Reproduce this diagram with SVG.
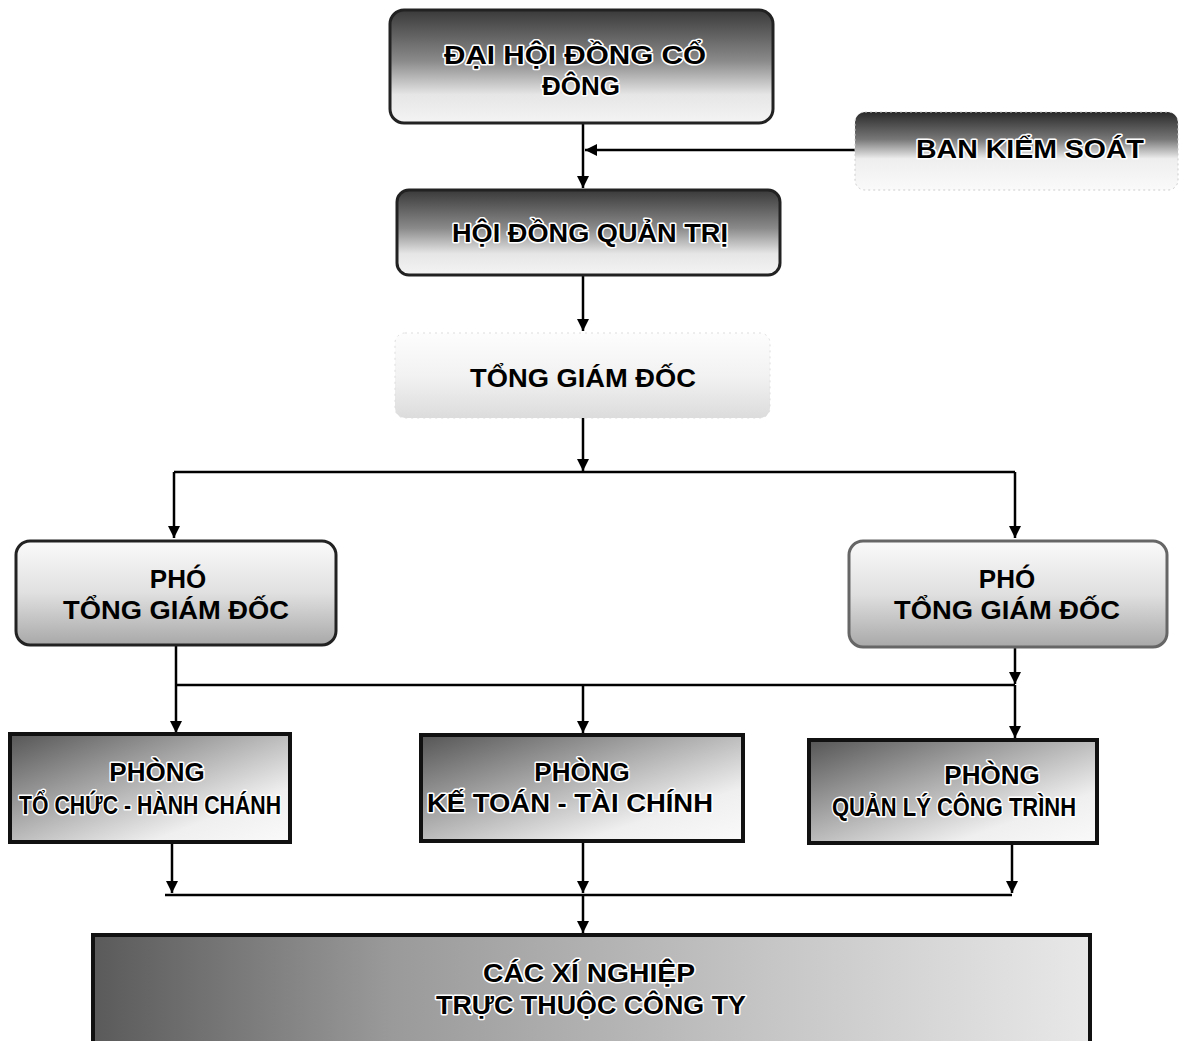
<svg xmlns="http://www.w3.org/2000/svg" width="1181" height="1041" viewBox="0 0 1181 1041">
<defs>
<linearGradient id="gTopDark" x1="0" y1="0" x2="0" y2="1">
<stop offset="0" stop-color="#3a3a3a"/><stop offset="0.45" stop-color="#8a8a8a"/><stop offset="0.75" stop-color="#e6e6e6"/><stop offset="1" stop-color="#f4f4f4"/>
</linearGradient>
<linearGradient id="gBks" x1="0" y1="0" x2="0" y2="1">
<stop offset="0" stop-color="#2a2a2a"/><stop offset="0.35" stop-color="#777"/><stop offset="0.6" stop-color="#eee"/><stop offset="1" stop-color="#fafafa"/>
</linearGradient>
<linearGradient id="gLight" x1="0" y1="0" x2="0" y2="1">
<stop offset="0" stop-color="#fdfdfd"/><stop offset="0.5" stop-color="#f2f2f2"/><stop offset="1" stop-color="#dcdcdc"/>
</linearGradient>
<linearGradient id="gPho" x1="0" y1="0" x2="0" y2="1">
<stop offset="0" stop-color="#fafafa"/><stop offset="0.5" stop-color="#e0e0e0"/><stop offset="1" stop-color="#a8a8a8"/>
</linearGradient>
<linearGradient id="gDiag" x1="0" y1="0" x2="1" y2="1">
<stop offset="0" stop-color="#555"/><stop offset="0.4" stop-color="#a8a8a8"/><stop offset="0.75" stop-color="#efefef"/><stop offset="1" stop-color="#fafafa"/>
</linearGradient>
<linearGradient id="gBottom" x1="0" y1="0" x2="1" y2="0">
<stop offset="0" stop-color="#5a5a5a"/><stop offset="0.3" stop-color="#9a9a9a"/><stop offset="0.7" stop-color="#c8c8c8"/><stop offset="1" stop-color="#e8e8e8"/>
</linearGradient>
<marker id="arr" viewBox="0 0 12 12" refX="12" refY="6" markerWidth="12" markerHeight="12" markerUnits="userSpaceOnUse" orient="auto">
<path d="M0,0 L12,6 L0,12 Z" fill="#000"/>
</marker>
</defs>
<style>
text{font-family:"Liberation Sans",Arial,sans-serif;font-weight:bold;font-size:26px;fill:#000;text-anchor:middle}
.halo{stroke:#fff;stroke-width:3px;paint-order:stroke;stroke-linejoin:round}
.rbox{stroke:#222;stroke-width:3}
.sbox{stroke:#111;stroke-width:4}
.line{stroke:#000;stroke-width:2.5;fill:none}
</style>
<rect width="1181" height="1041" fill="#fff"/>

<g id="connectors">
<path class="line" d="M583,123 V188" marker-end="url(#arr)"/>
<path class="line" d="M855,150 H585" marker-end="url(#arr)"/>
<path class="line" d="M583,275 V331" marker-end="url(#arr)"/>
<path class="line" d="M583,418 V471" marker-end="url(#arr)"/>
<path class="line" d="M174,472 H1015"/>
<path class="line" d="M174,472 V538" marker-end="url(#arr)"/>
<path class="line" d="M1015,472 V538" marker-end="url(#arr)"/>
<path class="line" d="M176,645 V733" marker-end="url(#arr)"/>
<path class="line" d="M1015,647 V684" marker-end="url(#arr)"/>
<path class="line" d="M176,685 H1015"/>
<path class="line" d="M1015,685 V738" marker-end="url(#arr)"/>
<path class="line" d="M583,685 V733" marker-end="url(#arr)"/>
<path class="line" d="M172,842 V893" marker-end="url(#arr)"/>
<path class="line" d="M583,840 V893" marker-end="url(#arr)"/>
<path class="line" d="M1012,843 V893" marker-end="url(#arr)"/>
<path class="line" d="M165,895 H1012"/>
<path class="line" d="M583,895 V933" marker-end="url(#arr)"/>
</g>

<g id="dhdcd">
<rect x="390" y="10" width="383" height="113" rx="14" fill="url(#gTopDark)" class="rbox"/>
<text x="575" y="64" class="halo" textLength="262" lengthAdjust="spacingAndGlyphs">ĐẠI HỘI ĐỒNG CỔ</text>
<text x="581" y="95" class="halo">ĐÔNG</text>
</g>

<g id="bks">
<rect x="855" y="112" width="323" height="78" rx="10" fill="url(#gBks)" stroke="#ccc" stroke-width="1" stroke-dasharray="2,3"/>
<text x="1030" y="158" class="halo" textLength="228" lengthAdjust="spacingAndGlyphs">BAN KIỂM SOÁT</text>
</g>

<g id="hdqt">
<rect x="397" y="190" width="383" height="85" rx="12" fill="url(#gTopDark)" class="rbox"/>
<text x="590" y="242" class="halo" textLength="276" lengthAdjust="spacingAndGlyphs">HỘI ĐỒNG QUẢN TRỊ</text>
</g>

<g id="tgd">
<rect x="395" y="333" width="375" height="85" rx="10" fill="url(#gLight)" stroke="#ddd" stroke-width="1" stroke-dasharray="2,4"/>
<text x="583" y="387" textLength="226" lengthAdjust="spacingAndGlyphs">TỔNG GIÁM ĐỐC</text>
</g>

<g id="pho1">
<rect x="16" y="541" width="320" height="104" rx="14" fill="url(#gPho)" class="rbox"/>
<text x="178" y="588">PHÓ</text>
<text x="176" y="619" textLength="226" lengthAdjust="spacingAndGlyphs">TỔNG GIÁM ĐỐC</text>
</g>

<g id="pho2">
<rect x="849" y="541" width="318" height="106" rx="14" fill="url(#gPho)" stroke="#666" stroke-width="3"/>
<text x="1007" y="588">PHÓ</text>
<text x="1007" y="619" textLength="226" lengthAdjust="spacingAndGlyphs">TỔNG GIÁM ĐỐC</text>
</g>

<g id="tchc">
<rect x="10" y="734" width="280" height="108" fill="url(#gDiag)" class="sbox"/>
<text x="157" y="781" class="halo">PHÒNG</text>
<text x="150" y="814" class="halo" textLength="262" lengthAdjust="spacingAndGlyphs">TỔ CHỨC - HÀNH CHÁNH</text>
</g>

<g id="ktct">
<rect x="421" y="735" width="322" height="106" fill="url(#gDiag)" class="sbox"/>
<text x="582" y="781" class="halo">PHÒNG</text>
<text x="570" y="812" class="halo" textLength="286" lengthAdjust="spacingAndGlyphs">KẾ TOÁN - TÀI CHÍNH</text>
</g>

<g id="qlct">
<rect x="809" y="740" width="288" height="103" fill="url(#gDiag)" class="sbox"/>
<text x="992" y="784" class="halo">PHÒNG</text>
<text x="954" y="816" class="halo" textLength="244" lengthAdjust="spacingAndGlyphs">QUẢN LÝ CÔNG TRÌNH</text>
</g>

<g id="xinghiep">
<rect x="93" y="935" width="997" height="110" fill="url(#gBottom)" class="sbox"/>
<text x="589" y="982" class="halo" textLength="212" lengthAdjust="spacingAndGlyphs">CÁC XÍ NGHIỆP</text>
<text x="591" y="1014" class="halo" textLength="310" lengthAdjust="spacingAndGlyphs">TRỰC THUỘC CÔNG TY</text>
</g>
</svg>
